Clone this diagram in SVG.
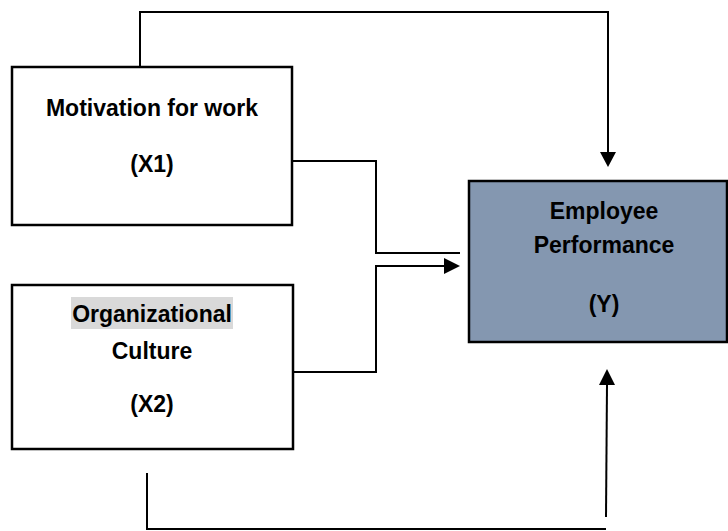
<svg xmlns="http://www.w3.org/2000/svg" width="728" height="531" viewBox="0 0 728 531">
<style>
.box{fill:#fff;stroke:#000;stroke-width:2.5}
.ybox{fill:#8497B0;stroke:#000;stroke-width:2.5}
.t{font-family:"Liberation Sans",Arial,sans-serif;font-weight:bold;font-size:23px;text-anchor:middle;fill:#000}
.c{fill:none;stroke:#000;stroke-width:2}
</style>
<g id="x1">
<rect class="box" x="12" y="67" width="280" height="158"/>
<text class="t" x="152" y="116">Motivation for work</text>
<text class="t" x="152" y="172">(X1)</text>
</g>
<g id="x2">
<rect class="box" x="12" y="285" width="281" height="164"/>
<rect x="71" y="297" width="162" height="32" fill="#D9D9D9"/>
<text class="t" x="152" y="322">Organizational</text>
<text class="t" x="152" y="359">Culture</text>
<text class="t" x="152" y="412">(X2)</text>
</g>
<g id="y">
<rect class="ybox" x="469" y="181" width="258" height="161"/>
<text class="t" x="604" y="219">Employee</text>
<text class="t" x="604" y="253">Performance</text>
<text class="t" x="604" y="312">(Y)</text>
</g>
<g id="connectors">
<polyline class="c" points="140,67 140,12 608,12 608,152"/>
<path d="M600,152 L616,152 L608,167 Z" fill="#000"/>
<polyline class="c" points="292,161 376,161 376,253 460,253"/>
<polyline class="c" points="293,372 376,372 376,266 445,266"/>
<path d="M444,258 L460,266 L444,274 Z" fill="#000"/>
<polyline class="c" points="147,473 147,529 606,529"/>
<line class="c" x1="606" y1="517" x2="607" y2="384"/>
<path d="M599,385 L615,385 L607,369 Z" fill="#000"/>
</g>
</svg>
